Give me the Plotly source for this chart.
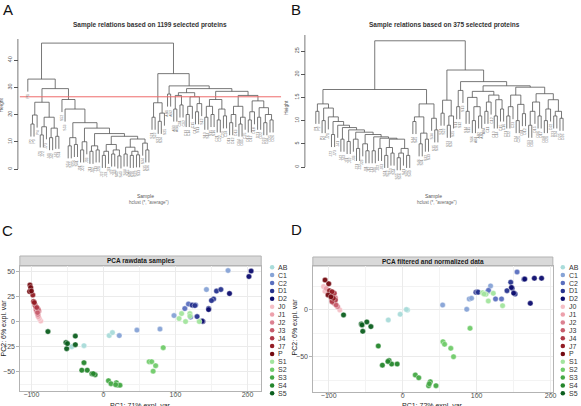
import plotly.graph_objects as go

W, H = 581, 406
def fx(p): return p / W
def fy(p): return 1 - p / H

FONT = "Liberation Sans, Arial, sans-serif"

# ---------------- dendrogram data: (merge height, left, right), leaves = sample names
# Tree A (1199 proteins)
A_L3 = (24.5, (19.8, (16.5, "P2", "P3"), "P4"),
        (19, (15.5, (12.5, "J71", "J72"), "J73"), (15, (11.5, "J41", "J42"), (12, "J43", "S51"))))
A_G1 = (11.5, (8.5, "S54", "S55"), (9, "S56", "S41"))
A_G2 = (10, (7, "J01", "J02"), "J03")
A_G3 = (8.5, (6.5, "J11", "J12"), (7, "J13", "J21"))
A_G4 = (9, (6.5, (5, "J22", "J23"), "J31"), (7, (5.5, "J32", "J33"), (4.8, "S42", "S43")))
A_G5 = (8, (5.5, "S44", "S45"), (6.5, (5, "S46", "S31"), (5.2, "S32", "S33")))
A_L11 = (9.5, "S34", (7, "S35", "S36"))
A_L10 = (11, A_G5, A_L11)
A_L9 = (12, A_G4, A_L10)
A_L8 = (13, A_G3, A_L9)
A_L7 = (15, A_G2, A_L8)
A_L6 = (17, A_G1, A_L7)
A_L5 = (22, "S53", A_L6)
A_L4 = (25.5, "S52", A_L5)
A_LEFT = (33, "P1", (29.5, A_L3, A_L4))
A_RA = (24.3, (19, "S21", "S22"), (20.5, (17.5, "S23", "S24"), "S25"))
A_RB1 = (27.5, "AB1", "AB2")
A_RC = (28, (27, (22, "AB3", "AB4"), (23.5, "C11", "C12")),
        (26.5, (23, (20, "C13", "C14"), "C15"), (24, (21, "C16", "S11"), "S12")))
A_RD1 = (25.5, (23, (19, "S13", "S14"), (20, "S15", "S16")), (22, (18, "C21", "C22"), (19.5, "C23", "C24")))
A_RD2 = (27, (23, (20, (17, "D11", "D12"), "D13"), (19, (16.5, "D14", "D15"), "C25")),
         (25, (21, (18, "D16", "D17"), "D18"), (22.5, (19, "D21", "D22"), (20, (17, "D23", "D24"), (18, "D25", "D26")))))
A_RIGHT = (35, A_RA, (30.5, A_RB1, (29.5, A_RC, (28.5, A_RD1, A_RD2))))
TREE_A = (46.2, A_LEFT, A_RIGHT)
CUT_A = 26.5

# Tree B (375 proteins)
B_X10 = (6, (4.2, (2.5, "S51", "S52"), (3, "S53", "S54")), (4, (3, (2, "S55", "S56"), "S41"), (2.5, "S42", "S43")))
B_X9 = (6.2, (4, "J02", "J03"), B_X10)
B_X8 = (6.5, (3.5, "J13", "J01"), B_X9)
B_X7 = (7, (5, "J23", (3.5, "J11", "J12")), B_X8)
B_X6 = (7.5, (6, "J33", (4, "J21", "J22")), B_X7)
B_X5 = (8, (5.5, "J31", "J32"), B_X6)
B_X4 = (8.5, (6, "J42", "J43"), B_X5)
B_X3 = (9, "J41", B_X4)
B_X2 = (9.8, (7, "J72", "J73"), B_X3)
B_X1 = (10.8, "J71", B_X2)
B_LL = (13.6, (12, "P1", "P2"), (12.7, (10, "P3", "P4"), B_X1))
B_LR = (13.6, (10.8, (9.8, "S44", "S45"), (7.3, (5, "S46", "S31"), (6, "S32", "S33"))),
        (10.5, "S34", (8, "S35", "S36")))
B_RA = (14.4, (11.6, "S21", "S22"), (11, (9, "S23", "S24"), "S25"))
B_RB1 = (16.5, (13, "S11", "S12"), "S13")
B_RC = (16.3, (15, (12, "S14", "S15"), (13, (10, "S16", "AB1"), (11, "AB2", "AB3"))),
        (15.5, (14, (12, "AB4", "C11"), "C12"), (14.5, (11, "C13", "C14"), (12.5, "C15", "C16"))))
B_RD = (17.2, (15.5, (13, (11, "C21", "C22"), "C23"), (13.5, (10, "C24", "C25"), (11.5, "D11", "D12"))),
        (15.8, (14, (12, (9, "D13", "D14"), "D15"), (11, "D16", "D17")),
         (14.5, (12.5, (10, "D18", "D21"), "D22"), (12, (11, "D23", "D24"), (10.5, "D25", "D26")))))
TREE_B = (27.2, (16.7, B_LL, B_LR), (20.9, B_RA, (18.4, B_RB1, (17.5, B_RC, B_RD))))

# ---------------- PCA data
GROUPS = ["AB", "C1", "C2", "D1", "D2", "J0", "J1", "J2", "J3", "J4", "J7", "P",
          "S1", "S2", "S3", "S4", "S5"]
COLORS = ["#A9DCDA", "#86A3D6", "#5A6FBF", "#27338F", "#0C0C6E", "#F5BFC6", "#EDA1AC",
          "#DC8191", "#C75D6C", "#AF3A47", "#931D24", "#740A10",
          "#A3E59E", "#70CC6A", "#45A945", "#24862C", "#0B5E1E"]

raw_group = (["P"] * 4 + ["J7"] * 3 + ["J4"] * 3 + ["J3"] * 3 + ["J2"] * 3 + ["J1"] * 3 + ["J0"] * 3 +
             ["S5"] * 6 + ["S4"] * 6 + ["S3"] * 6 + ["S2"] * 5 + ["S1"] * 6 + ["AB"] * 4 +
             ["C1"] * 6 + ["C2"] * 5 + ["D1"] * 8 + ["D2"] * 6)
raw_pc1 = [-102, -101, -102.5, -100, -98, -97, -96, -95, -94, -92.5, -93, -90.5, -91.5,
           -89.5, -92, -91, -90.5, -93, -94, -87, -89, -92,
           -77, -52, -51, -39, -39, -50, -27, -30, -22.5, -16, -11.5, -14,
           7, 10.5, 18, 20.5, 23, 17, 83, 63.5, 67, 72.5, 69,
           108.5, 105, 114, 120, 120, 133, -44, -27, 8, 12.5,
           22, 46.5, 78.5, 98, 143, 173, 113, 118, 121, 128, 124,
           123, 130, 146, 153, 157, 163, 127, 150, 138, 175, 205, 202, 146, 137]
raw_pc2 = [36.5, 34, 30, 30.5, 26.5, 20, 19, 16.5, 15, 14, 11.5, 12, 9,
           10.5, 13, 7, 5, 10, 12.5, 0.5, 3, 8,
           -10, -21, -27, -14.5, -23, -22, -41, -48.5, -48.5, -52, -53, -52,
           -59, -62, -61, -63.5, -63.5, -63, -26, -40, -40, -44, -49.5,
           8, 3, 0, 8, 5.5, 0, -25, -24, -14, -11,
           -14, -8.5, -7.5, 6, 32, 51, 13, 17.5, 4.5, 16.5, 16,
           16.5, 5, 13, 22.5, 30.5, 32, 16, 21, 0, 28, 50.5, 45, 12, 0.5]

norm_group = raw_group
norm_pc1 = [-105, -100, -101, -97, -99, -95.5, -93.7, -92.5, -91, -95.5, -92.5, -90, -96,
            -88, -94, -91, -103.5, -98, -92, -107, -85, -105,
            -80, -56, -48.5, -43, -54, -55, -33, -27.5, -18.5, -15, -7.5, -20,
            17, 21.7, 37.3, 35, 45, 36, 54.4, 56.6, 65, 68.7, 91,
            108, 112.5, 115.7, 122.4, 135, 110, -19.5, -3.4, 6.5, 5,
            54, 86.6, 90, 93, 118.8, 114.8, 125.5, 133.6, 154.6, 116, 100,
            99, 101, 141, 146, 148, 152, 164, 102, 178, 187.7, 172.5, 165, 150, 147]
norm_pc2 = [32, 28, 16, 14, 20.6, 19.5, 12.5, 17.8, 10.7, 8.9, 7.1, 5.3, 11,
            3.5, 15, 13, 23, 17, 9, 25, 0, 20,
            -5.3, -15, -12.8, -17.8, -22.8, -16, -38.5, -59, -54, -57.8, -57.8, -55,
            -69.5, -72.5, -76.7, -81, -81, -79, -33.9, -36.7, -41, -50, -19.6,
            18.4, 16.7, 9.6, 17.8, 4.6, 17, -10.7, -4.6, 0, 0.5,
            5.3, 0.7, 11.8, 12.5, 25.7, 19.6, 11.8, 11.8, 40.6, 21, 19,
            19, 19.3, 20.6, 29.6, 23.2, 17, 32.8, 19, 33.9, 33.9, 7.1, 33, 18, 24]


def dendro(tree, hang):
    sx, sy, labels = [], [], []
    count = [0]

    def walk(node):
        if isinstance(node, str):
            i = count[0]
            count[0] += 1
            return i, None
        h, l, r = node
        xl, hl = walk(l)
        xr, hr = walk(r)
        for xc, hc, child in ((xl, hl, l), (xr, hr, r)):
            bottom = hc if hc is not None else h - hang
            sx.extend([xc, xc, None]); sy.extend([bottom, h, None])
            if hc is None:
                labels.append((xc, h - hang, child))
        sx.extend([xl, xr, None]); sy.extend([h, h, None])
        return (xl + xr) / 2, h

    walk(tree)
    return sx, sy, labels


fig = go.Figure()
annos = []
shapes = []

# ---- dendrograms
for k, (tree, hang, xa, ya) in enumerate([(TREE_A, 4.6, "x", "y"), (TREE_B, 2.7, "x2", "y2")]):
    sx, sy, labels = dendro(tree, hang)
    fig.add_trace(go.Scatter(x=sx, y=sy, mode="lines", xaxis=xa, yaxis=ya,
                             line=dict(color="#555555", width=0.8), hoverinfo="skip"))
    for (lx, ly, name) in labels:
        annos.append(dict(x=lx, y=ly, xref=xa, yref=ya, text=name, showarrow=False,
                          textangle=-90, yanchor="top", xanchor="center", yshift=-1,
                          font=dict(size=3.5, color="#777777", family=FONT)))

DEN_AX = dict(showgrid=False, zeroline=False, showline=False)
fig.update_layout(
    xaxis=dict(domain=[fx(20), fx(283)], range=[-2.56, 81.56], visible=False, anchor="y"),
    yaxis=dict(domain=[fy(200), fy(39)], range=[(169 - 200) / 2.725, 130 / 2.725], anchor="free",
               position=fx(18), tickvals=[0, 10, 20, 30, 40], ticks="outside", ticklen=3.5,
               tickwidth=0.8, tickcolor="#555", tickangle=-90,
               tickfont=dict(size=5.5, color="#555", family=FONT), **DEN_AX),
    xaxis2=dict(domain=[fx(309), fx(575)], range=[-2.86, 81.54], visible=False, anchor="y2"),
    yaxis2=dict(domain=[fy(200), fy(35)], range=[(167 - 200) / 4.64, 132 / 4.64], anchor="free",
                position=fx(307), tickvals=[0, 5, 10, 15, 20, 25], ticks="outside", ticklen=3.5,
                tickwidth=0.8, tickcolor="#555", tickangle=-90,
                tickfont=dict(size=5.5, color="#555", family=FONT), **DEN_AX),
)
# axis spines
shapes.append(dict(type="line", xref="paper", yref="y", x0=fx(18), x1=fx(18), y0=0, y1=130 / 2.725,
                   line=dict(color="#555", width=0.8)))
shapes.append(dict(type="line", xref="paper", yref="y2", x0=fx(307), x1=fx(307), y0=0, y1=132 / 4.64,
                   line=dict(color="#555", width=0.8)))
# cut line
shapes.append(dict(type="line", xref="x domain", yref="y", x0=0, x1=1, y0=CUT_A, y1=CUT_A,
                   line=dict(color="#EE6A6A", width=1)))

def txt(x, y, s, size, color="#333", bold=False, angle=0, xa="center", ya="middle"):
    annos.append(dict(x=fx(x), y=fy(y), xref="paper", yref="paper", showarrow=False,
                      text=("<b>%s</b>" % s) if bold else s, textangle=angle,
                      xanchor=xa, yanchor=ya, font=dict(size=size, color=color, family=FONT)))

txt(151, 25, "Sample relations based on 1199 selected proteins", 6.5, "#333", True)
txt(447.5, 25, "Sample relations based on 375 selected proteins", 6.5, "#333", True)
txt(147, 196, "Sample", 5, "#555")
txt(437, 196, "Sample", 5, "#555")
txt(150, 202.5, 'hclust (*, "average")', 4.5, "#666")
txt(440, 202.5, 'hclust (*, "average")', 4.5, "#666")
txt(1.5, 105, "Height", 5, "#555", angle=-90)
txt(288, 108, "Height", 5, "#555", angle=-90)
txt(8, 9, "A", 15, "#111")
txt(298.5, 9, "B", 15, "#111")
txt(8, 230, "C", 15, "#111")
txt(299, 229.5, "D", 15, "#111")

# ---- PCA panels
col_of = dict(zip(GROUPS, COLORS))
for (grp, p1, p2, xa, ya) in [(raw_group, raw_pc1, raw_pc2, "x3", "y3"),
                              (norm_group, norm_pc1, norm_pc2, "x4", "y4")]:
    for g in GROUPS:
        xs = [a for a, gg in zip(p1, grp) if gg == g]
        ys = [b for b, gg in zip(p2, grp) if gg == g]
        fig.add_trace(go.Scatter(x=xs, y=ys, mode="markers", xaxis=xa, yaxis=ya, name=g,
                                 marker=dict(size=5.5, color=col_of[g], opacity=0.95,
                                             line=dict(color="white", width=0.4))))

PCA_AX = dict(showgrid=True, gridcolor="#EBEBEB", gridwidth=0.6, zeroline=False, showline=True,
              mirror=True, linecolor="#B3B3B3", linewidth=1, ticks="outside", ticklen=2.5,
              tickcolor="#B3B3B3", tickfont=dict(size=7, color="#4D4D4D", family=FONT))
fig.update_layout(
    xaxis3=dict(domain=[fx(20), fx(263)], range=[-116, 219], anchor="y3", tickvals=[-100, 0, 100, 200],
                ticklabelstandoff=-6,
                minor=dict(tickvals=[-50, 50, 150], showgrid=True, gridcolor="#F3F3F3", ticks=""), **PCA_AX),
    yaxis3=dict(domain=[fy(390.7), fy(266)], range=[-69, 55.5], anchor="x3", tickvals=[-50, -25, 0, 25, 50],
                minor=dict(tickvals=[-62.5, -37.5, -12.5, 12.5, 37.5], showgrid=True, gridcolor="#F3F3F3", ticks=""),
                **PCA_AX),
    xaxis4=dict(domain=[fx(315), fx(556.7)], range=[-121.5, 203], anchor="y4", tickvals=[-100, 0, 100, 200],
                ticklabelstandoff=-6,
                minor=dict(tickvals=[-50, 50, 150], showgrid=True, gridcolor="#F3F3F3", ticks=""), **PCA_AX),
    yaxis4=dict(domain=[fy(391.7), fy(266)], range=[-87.4, 47], anchor="x4", tickvals=[-50, 0],
                minor=dict(tickvals=[-75, -25, 25], showgrid=True, gridcolor="#F3F3F3", ticks=""), **PCA_AX),
)
# strips
for (x0, x1, y0, y1, title) in [(20, 263, 256, 266, "PCA rawdata samples"),
                                (315, 556.7, 257, 266, "PCA filtered and normalized data")]:
    shapes.append(dict(type="rect", xref="paper", yref="paper", x0=fx(x0), x1=fx(x1), y0=fy(y1), y1=fy(y0),
                       fillcolor="#D9D9D9", line=dict(color="#B3B3B3", width=1), layer="below"))
    txt((x0 + x1) / 2, (y0 + y1) / 2, title, 6.5, "#1A1A1A", True)

txt(141.5, 399.5, "PC1: 71% expl. var", 7, "#222", ya="top")
txt(435.5, 399.5, "PC1: 72% expl. var", 7, "#222", ya="top")
txt(4.5, 328, "PC2: 6% expl. var", 7, "#222", angle=-90)
txt(297.5, 327, "PC2: 6% expl. var", 7, "#222", angle=-90)

# ---- legends (as small categorical axes)
for (xa, ya, d0, d1, mx) in [("x5", "y5", 268, 290, 6), ("x6", "y6", 561, 581, 5.7)]:
    fig.add_trace(go.Scatter(x=[mx] * len(GROUPS), y=GROUPS, mode="markers", xaxis=xa, yaxis=ya,
                             cliponaxis=False, marker=dict(size=4.5, color=COLORS)))
    for g in GROUPS:
        annos.append(dict(x=mx + 4, y=g, xref=xa, yref=ya, text=g, showarrow=False,
                          xanchor="left", yanchor="middle",
                          font=dict(size=7, color="#333", family=FONT)))
LEG_Y = dict(domain=[fy(397.3), fy(263.3)], type="category", categoryorder="array", categoryarray=GROUPS,
             range=[16.5, -0.5], visible=False)
fig.update_layout(
    xaxis5=dict(domain=[fx(268), fx(290)], range=[0, 22], visible=False, anchor="y5"),
    yaxis5=dict(anchor="x5", **LEG_Y),
    xaxis6=dict(domain=[fx(561), fx(581)], range=[0, 20], visible=False, anchor="y6"),
    yaxis6=dict(anchor="x6", **LEG_Y),
)

fig.update_layout(width=W, height=H, margin=dict(l=0, r=0, t=0, b=0), showlegend=False,
                  paper_bgcolor="white", plot_bgcolor="white", annotations=annos, shapes=shapes,
                  font=dict(family=FONT))
fig.write_html("out.html", config={"displayModeBar": False},
               post_script="document.body.style.margin='0px';document.body.style.overflow='hidden';")
